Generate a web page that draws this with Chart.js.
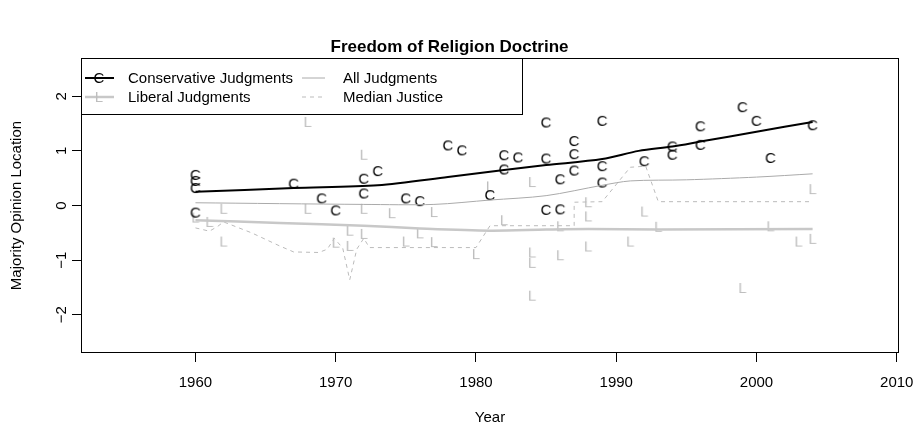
<!DOCTYPE html>
<html>
<head>
<meta charset="utf-8">
<script src="https://cdn.jsdelivr.net/npm/chart.js@4/dist/chart.umd.min.js"></script>
<style>
  body { margin: 0; background: #fff; }
  #wrap { width: 916px; height: 425px; }
</style>
</head>
<body>
<div id="wrap"><canvas id="chart" width="916" height="425"></canvas></div>
<script>
var FONT = '"Liberation Sans", Arial, Helvetica, sans-serif';

// individual judgments (C = conservative, L = liberal)
var consYears = [1960, 1960, 1960, 1960, 1967, 1969, 1970, 1972, 1972, 1973, 1975, 1976, 1978, 1979,
	1981, 1982, 1982, 1983, 1985, 1985, 1985, 1986, 1986, 1987, 1987, 1987, 1989, 1989, 1989,
	1992, 1994, 1994, 1996, 1996, 1999, 2000, 2001, 2004];
var consValues = [0.56, 0.45, 0.32, -0.13, 0.40, 0.13, -0.09, 0.49, 0.22, 0.63, 0.13, 0.08, 1.10, 1.01,
	0.19, 0.92, 0.66, 0.88, 1.52, 0.86, -0.08, 0.48, -0.07, 1.18, 0.94, 0.64, 1.55, 0.72, 0.42,
	0.81, 1.08, 0.93, 1.45, 1.11, 1.80, 1.55, 0.87, 1.47];

var libYears = [1960, 1961, 1962, 1962, 1968, 1968, 1970, 1971, 1971, 1972, 1972, 1972, 1974, 1975,
	1976, 1977, 1977, 1980, 1981, 1982, 1984, 1984, 1984, 1984, 1986, 1986, 1988, 1988, 1988,
	1991, 1992, 1993, 1999, 2001, 2003, 2004, 2004];
var libValues = [-0.22, -0.30, -0.06, -0.66, 1.53, -0.06, -0.68, -0.46, -0.74, 0.93, -0.06, -0.52, -0.14, -0.66,
	-0.51, -0.12, -0.67, -0.89, 0.35, -0.27, 0.43, -0.86, -1.05, -1.65, -0.38, -0.91, 0.06, -0.20, -0.75,
	-0.66, -0.11, -0.39, -1.51, -0.38, -0.66, 0.30, -0.61];

// smoothed lines
var consLineYears = [1960, 1967, 1973, 1978, 1982, 1985, 1989, 1991.6, 1994, 1996, 2000, 2004];
var consLineValues = [0.25, 0.32, 0.37, 0.52, 0.65, 0.74, 0.85, 1.0, 1.08, 1.17, 1.35, 1.53];

var libLineYears = [1960, 1966, 1972, 1976, 1981, 1985, 1988, 1993, 2004];
var libLineValues = [-0.27, -0.32, -0.37, -0.42, -0.46, -0.44, -0.43, -0.44, -0.43];

var allLineYears = [1960, 1972, 1977, 1981, 1985, 1989, 1991, 1995, 2000, 2004];
var allLineValues = [0.05, 0.02, 0.02, 0.10, 0.18, 0.37, 0.45, 0.47, 0.52, 0.58];

var medYears = [1960, 1961, 1961.6, 1962, 1964, 1966, 1967, 1968.8, 1969.4, 1969.9, 1970.5, 1971, 1971.5,
	1972, 1972.4, 1980, 1981, 1987, 1987, 1989, 1991, 1992.1, 1993, 2004];
var medValues = [-0.41, -0.47, -0.38, -0.30, -0.50, -0.74, -0.85, -0.86, -0.80, -0.60, -0.78, -1.36, -0.80,
	-0.60, -0.77, -0.77, -0.37, -0.37, 0.06, 0.07, 0.70, 0.72, 0.07, 0.07];

var xTicks = [1960, 1970, 1980, 1990, 2000, 2010];
var yTicks = [-2, -1, 0, 1, 2];
var yTickLabels = ['\u22122', '\u22121', '0', '1', '2'];

function pts(xs, ys) {
	return xs.map(function (v, i) { return { x: v, y: ys[i] }; });
}

// letter used as a point marker, like text() in R
function glyph(ch, color) {
	var c = document.createElement('canvas');
	c.width = 18; c.height = 18;
	var g = c.getContext('2d');
	g.font = '15px ' + FONT;
	g.fillStyle = color;
	g.textAlign = 'center';
	g.textBaseline = 'alphabetic';
	g.fillText(ch, 9, 9 + 5.4);
	return c;
}
var cMark = glyph('C', '#000000');
var lMark = glyph('L', '#bebebe');

var decor = {
	id: 'decor',
	afterDraw: function (chart) {
		var ctx = chart.ctx, a = chart.chartArea, y = chart.scales.y;
		ctx.save();
		ctx.strokeStyle = '#000';
		ctx.lineWidth = 1;
		ctx.strokeRect(Math.round(a.left) + 0.5, Math.round(a.top) + 0.5,
			Math.round(a.right - a.left) - 1, Math.round(a.bottom - a.top) - 1);

		// y tick labels, parallel to the axis
		ctx.fillStyle = '#000';
		ctx.font = '15px ' + FONT;
		ctx.textAlign = 'center';
		ctx.textBaseline = 'middle';
		yTicks.forEach(function (v, i) {
			ctx.save();
			ctx.translate(62, y.getPixelForValue(v));
			ctx.rotate(-Math.PI / 2);
			ctx.fillText(yTickLabels[i], 0, 0);
			ctx.restore();
		});

		// legend
		var lx = Math.round(a.left) + 0.5, ly = Math.round(a.top) + 0.5;
		ctx.fillStyle = '#fff';
		ctx.fillRect(lx, ly, 441, 56);
		ctx.strokeStyle = '#000';
		ctx.lineWidth = 1;
		ctx.strokeRect(lx, ly, 441, 56);
		var r1 = 78, r2 = 97;
		function seg(x0, x1, yy, col, w, dash) {
			ctx.beginPath();
			ctx.setLineDash(dash || []);
			ctx.strokeStyle = col;
			ctx.lineWidth = w;
			ctx.moveTo(x0, yy);
			ctx.lineTo(x1, yy);
			ctx.stroke();
			ctx.setLineDash([]);
		}
		seg(85, 114, r1, '#000', 2);
		ctx.drawImage(cMark, 99 - 9, r1 - 9);
		seg(85, 114, r2, '#c8c8c8', 2.5);
		ctx.drawImage(lMark, 99 - 9, r2 - 9);
		seg(302, 325, r1, '#aaaaaa', 1);
		seg(302, 325, r2, '#bbbbbb', 1, [4, 4]);
		ctx.fillStyle = '#000';
		ctx.textAlign = 'left';
		ctx.textBaseline = 'alphabetic';
		ctx.fillText('Conservative Judgments', 128, r1 + 5.4);
		ctx.fillText('Liberal Judgments', 128, r2 + 5.4);
		ctx.fillText('All Judgments', 343, r1 + 5.4);
		ctx.fillText('Median Justice', 343, r2 + 5.4);
		ctx.restore();
	}
};

var config = {
	type: 'scatter',
	data: {
		datasets: [
			{ label: 'Conservative line', data: pts(consLineYears, consLineValues), showLine: true,
				borderColor: '#000', borderWidth: 2, pointRadius: 0, tension: 0.3 },
			{ label: 'All Judgments', data: pts(allLineYears, allLineValues), showLine: true,
				borderColor: '#aaaaaa', borderWidth: 1, pointRadius: 0, tension: 0.3 },
			{ label: 'Liberal line', data: pts(libLineYears, libLineValues), showLine: true,
				borderColor: '#c8c8c8', borderWidth: 2.5, pointRadius: 0, tension: 0.3 },
			{ label: 'Median Justice', data: pts(medYears, medValues), showLine: true,
				borderColor: '#bbbbbb', borderWidth: 1, borderDash: [4, 4], pointRadius: 0, tension: 0 },
			{ label: 'Conservative Judgments', data: pts(consYears, consValues),
				pointStyle: cMark, pointRadius: 4 },
			{ label: 'Liberal Judgments', data: pts(libYears, libValues),
				pointStyle: lMark, pointRadius: 4 }
		]
	},
	options: {
		responsive: false,
		animation: false,
		devicePixelRatio: 1,
		layout: { padding: { left: 0, right: 17, top: 0, bottom: 0 } },
		plugins: {
			legend: { display: false },
			tooltip: { enabled: false },
			title: {
				display: true,
				text: 'Freedom of Religion Doctrine',
				color: '#000',
				font: { family: FONT, size: 17, weight: 'bold', lineHeight: 1 },
				padding: { top: 38.5, bottom: 2.5 }
			}
		},
		scales: {
			x: {
				type: 'linear',
				min: 1951.84,
				max: 2010.16,
				afterBuildTicks: function (s) { s.ticks = xTicks.map(function (v) { return { value: v }; }); },
				afterFit: function (s) { s.height = 72; s.paddingLeft = 0; s.paddingRight = 0; },
				grid: { display: true, drawOnChartArea: false, drawTicks: true, tickLength: 9, color: '#000' },
				border: { display: false },
				ticks: {
					color: '#000', font: { family: FONT, size: 15, lineHeight: 1.2 }, padding: 12,
					maxRotation: 0, autoSkip: false,
					callback: function (v) { return String(v); }
				},
				title: { display: true, text: 'Year', color: '#000',
					font: { family: FONT, size: 15, lineHeight: 1 }, padding: { top: 0, bottom: 0 } }
			},
			y: {
				min: -2.7,
				max: 2.7,
				afterBuildTicks: function (s) { s.ticks = yTicks.map(function (v) { return { value: v }; }); },
				afterFit: function (s) { s.width = 81; s.paddingTop = 0; s.paddingBottom = 0; },
				grid: { display: true, drawOnChartArea: false, drawTicks: true, tickLength: 9, color: '#000' },
				border: { display: false },
				ticks: { display: false },
				title: { display: true, text: 'Majority Opinion Location', color: '#000',
					font: { family: FONT, size: 15, lineHeight: 1 }, padding: { top: 9.5, bottom: 0 } }
			}
		}
	},
	plugins: [decor]
};

window.onload = function () {
	var ctx = document.getElementById('chart').getContext('2d');
	window.myChart = new Chart(ctx, config);
};
</script>
</body>
</html>
